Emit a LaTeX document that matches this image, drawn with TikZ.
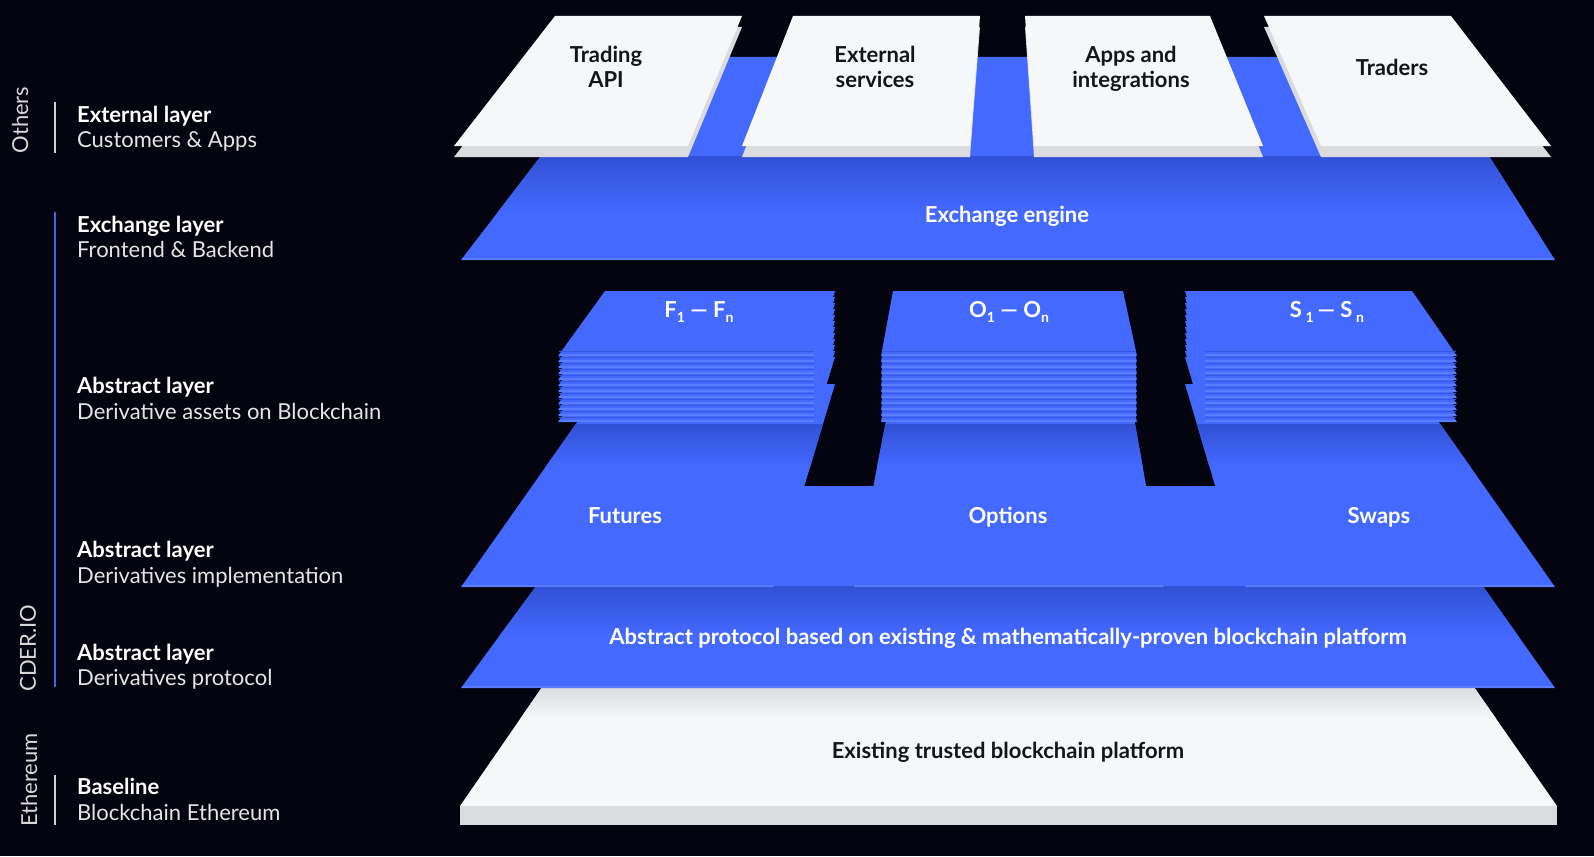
\documentclass[tikz,border=0pt]{standalone}
\usepackage{fontspec}
\setmainfont{Lato}

\definecolor{bgcol}{HTML}{03040F}
\definecolor{layerblue}{HTML}{4469FF}
\definecolor{rimblue}{HTML}{5A7DFF}
\definecolor{shadowblue}{HTML}{2440B8}
\definecolor{cardwhite}{HTML}{F6F7F9}
\definecolor{cardgray}{HTML}{DADBDF}
\definecolor{ink}{HTML}{14151B}
\definecolor{lightgray}{HTML}{CFCFD2}
\definecolor{barblue}{HTML}{3F63F0}

\newcommand{\lowidx}[1]{\raisebox{-0.45ex}{\fontsize{14}{14}\selectfont #1}}

\begin{document}
\begin{tikzpicture}[x=1pt, y=-1pt,
    layer/.style={fill=layerblue},
    rim/.style={draw=rimblue, line width=2pt},
    sheetgap/.style={draw=shadowblue!45!layerblue, line width=1pt},
    cardtop/.style={fill=cardwhite},
    cardside/.style={fill=cardgray},
    darkband/.style={top color=shadowblue!60!layerblue, bottom color=layerblue},
    title/.style={anchor=base west, inner sep=0pt, text=white, font=\fontsize{22}{26}\selectfont\bfseries},
    subtitle/.style={anchor=base west, inner sep=0pt, text=white!90!black, font=\fontsize{22}{26}\selectfont},
    group/.style={rotate=90, inner sep=0pt, text=white!85!black, font=\fontsize{22}{26}\selectfont},
    onblue/.style={inner sep=0pt, text=white, font=\fontsize{22}{26}\selectfont\bfseries},
    oncard/.style={inner sep=0pt, align=center, text=ink, font=\fontsize{22}{25}\selectfont\bfseries}]

    % Fondo
    \fill[bgcol] (0,0) rectangle (1594,856);
    \useasboundingbox (0,0) rectangle (1594,856);

    % Base blanca
    \fill[cardside] (460,806) -- (1557,806) -- (1557,825) -- (460,825) -- cycle;
    \fill[cardtop] (547,680) -- (1469,680) -- (1557,806) -- (460,806) -- cycle;
    \begin{scope}
        \clip (547,680) -- (1469,680) -- (1557,806) -- (460,806) -- cycle;
        \shade[top color=cardgray, bottom color=cardwhite] (460,686) rectangle (1557,718);
    \end{scope}

    % Capa del protocolo
    \fill[layer] (610,486) -- (1412,486) -- (1555,688) -- (461,688) -- cycle;
    \begin{scope}
        \clip (610,486) -- (1412,486) -- (1555,688) -- (461,688) -- cycle;
        \shade[darkband] (461,586) rectangle (1555,636);
    \end{scope}
    \draw[rim] (462,687) -- (1554,687);

    % Futuros, opciones y swaps
    \fill[layer] (604,384) -- (835,384) -- (774,587) -- (461,587) -- cycle;
    \fill[layer] (893,384) -- (1128,384) -- (1164,587) -- (854,587) -- cycle;
    \fill[layer] (1185,384) -- (1412,384) -- (1555,587) -- (1245,587) -- cycle;
    \begin{scope}
        \clip (604,384) -- (835,384) -- (774,587) -- (461,587) -- cycle
              (893,384) -- (1128,384) -- (1164,587) -- (854,587) -- cycle
              (1185,384) -- (1412,384) -- (1555,587) -- (1245,587) -- cycle;
        \shade[darkband] (461,424) rectangle (1555,466);
    \end{scope}
    \foreach \a/\b in {462/773, 855/1163, 1246/1554}
        \draw[rim] (\a,586) -- (\b,586);

    % Pilas de hojas
    \foreach \k in {11,10,...,0}
        \foreach \a/\b/\c/\d in {605/835/815/558, 893/1123/1137/881, 1185/1412/1457/1204} {
            \fill[layer] (\a,291+6*\k) -- (\b,291+6*\k) -- (\c,356+6*\k) -- (\d,356+6*\k) -- cycle;
            \draw[sheetgap] (\d+1,351+6*\k) -- (\c-1,351+6*\k);
            \draw[rim, line width=1.8pt] (\d+1,355+6*\k) -- (\c-1,355+6*\k);
        }

    % Motor de intercambio
    \fill[layer] (617,57) -- (1426,57) -- (1555,260) -- (461,260) -- cycle;
    \begin{scope}
        \clip (617,57) -- (1426,57) -- (1555,260) -- (461,260) -- cycle;
        \shade[darkband] (461,156) rectangle (1555,212);
    \end{scope}
    \draw[rim] (462,259) -- (1554,259);

    % Tarjetas superiores
    \foreach \a/\b/\c/\d in {555/742/688/454, 793/980/970/742, 1025/1210/1263/1034, 1264/1451/1551/1321} {
        \fill[cardside] (\a,27) -- (\b,27) -- (\c,157) -- (\d,157) -- cycle;
        \fill[cardtop] (\a,16) -- (\b,16) -- (\c,146) -- (\d,146) -- cycle;
    }

    % Textos de las capas
    \node[oncard] (tradingapi) at (606,67) {Trading\\API};
    \node[oncard] (extservices) at (875,67) {External\\services};
    \node[oncard] (appsint) at (1131,69) {Apps and\\integrations};
    \node[oncard, anchor=base] (traders) at (1392,76) {Traders};
    \node[onblue, anchor=base] (engine) at (1007,222) {Exchange engine};
    \node[onblue, anchor=base] (fstack) at (699,317) {F\lowidx{1} — F\lowidx{n}};
    \node[onblue, anchor=base] (ostack) at (1009,317) {O\lowidx{1} — O\lowidx{n}};
    \node[onblue, anchor=base] (sstack) at (1327,317) {S\,\lowidx{1}\,— S\,\lowidx{n}};
    \node[onblue, anchor=base] (futures) at (625,523) {Futures};
    \node[onblue, anchor=base] (options) at (1008,523) {Options};
    \node[onblue, anchor=base] (swaps) at (1379,523) {Swaps};
    \node[onblue, anchor=base] (protocol) at (1008,644) {Abstract protocol based on existing \& mathematically-proven blockchain platform};
    \node[oncard, anchor=base] (trusted) at (1008,758) {Existing trusted blockchain platform};

    % Barras laterales
    \draw[lightgray, line width=2pt] (55,102) -- (55,153);
    \draw[barblue, line width=2pt] (55,212) -- (55,687);
    \draw[lightgray, line width=2pt] (55,775) -- (55,825);

    % Grupos
    \node[group] (others) at (20,120) {Others};
    \node[group] (cderio) at (28,648) {CDER.IO};
    \node[group] (ethereum) at (29,780) {Ethereum};

    % Etiquetas de capa
    \node[title] (extl) at (77,122) {External layer};
    \node[subtitle] (extd) at ([yshift=-25pt]extl.base west) {Customers \& Apps};
    \node[title] (exchl) at (77,232) {Exchange layer};
    \node[subtitle] (exchd) at ([yshift=-25pt]exchl.base west) {Frontend \& Backend};
    \node[title] (assetl) at (77,393) {Abstract layer};
    \node[subtitle] (assetd) at ([yshift=-26pt]assetl.base west) {Derivative assets on Blockchain};
    \node[title] (impll) at (77,557) {Abstract layer};
    \node[subtitle] (impld) at ([yshift=-26pt]impll.base west) {Derivatives implementation};
    \node[title] (protl) at (77,660) {Abstract layer};
    \node[subtitle] (protd) at ([yshift=-25pt]protl.base west) {Derivatives protocol};
    \node[title] (basel) at (77,794) {Baseline};
    \node[subtitle] (based) at ([yshift=-26pt]basel.base west) {Blockchain Ethereum};
\end{tikzpicture}
\end{document}
